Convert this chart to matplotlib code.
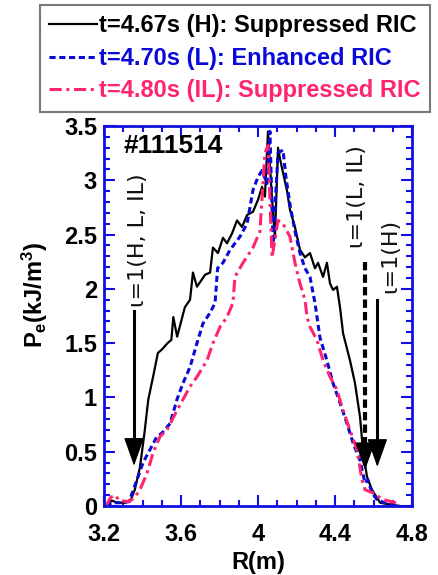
import matplotlib
matplotlib.use("Agg")
import matplotlib.pyplot as plt
from matplotlib.ticker import MultipleLocator, FuncFormatter

# Fonts: Arial-like bold everywhere
plt.rcParams['font.family'] = ['Liberation Sans', 'DejaVu Sans']
plt.rcParams['font.weight'] = 'bold'
plt.rcParams['mathtext.fontset'] = 'custom'
plt.rcParams['mathtext.rm'] = 'Liberation Sans:bold'
plt.rcParams['mathtext.bf'] = 'Liberation Sans:bold'
plt.rcParams['mathtext.it'] = 'Liberation Sans:bold'

# Data: R (m) and electron pressure (kJ/m^3)
h_r = [3.21, 3.24, 3.27, 3.31, 3.34, 3.36, 3.387, 3.41, 3.43, 3.455, 3.48, 3.50,
       3.53, 3.55, 3.56, 3.58, 3.62, 3.647, 3.662, 3.683, 3.725, 3.751, 3.766,
       3.792, 3.818, 3.839, 3.865, 3.891, 3.917, 3.943, 3.974, 4.00, 4.021,
       4.036, 4.052, 4.07, 4.088, 4.104, 4.114, 4.130, 4.151, 4.166, 4.192,
       4.218, 4.244, 4.270, 4.296, 4.312, 4.338, 4.358, 4.374, 4.390, 4.410,
       4.426, 4.442, 4.478, 4.504, 4.530, 4.545, 4.566, 4.592, 4.634, 4.70, 4.74]
h_p = [0.0, 0.05, 0.03, 0.03, 0.06, 0.15, 0.36, 0.67, 0.98, 1.19, 1.41, 1.44,
       1.50, 1.53, 1.74, 1.56, 1.83, 1.90, 2.15, 2.02, 2.13, 2.15, 2.38,
       2.33, 2.47, 2.42, 2.51, 2.63, 2.57, 2.68, 2.71, 2.82, 2.94,
       2.85, 3.45, 2.90, 2.47, 3.30, 3.20, 3.07, 2.90, 2.73, 2.57,
       2.36, 2.29, 2.33, 2.19, 2.24, 2.11, 2.24, 2.05, 1.99, 2.02,
       1.83, 1.59, 1.34, 1.13, 0.82, 0.52, 0.27, 0.15, 0.03, 0.01, 0.0]

l_r = [3.21, 3.24, 3.28, 3.33, 3.371, 3.403, 3.439, 3.475, 3.50, 3.543, 3.579,
       3.610, 3.647, 3.683, 3.714, 3.751, 3.777, 3.79, 3.818, 3.855, 3.906,
       3.943, 3.974, 4.00, 4.021, 4.047, 4.062, 4.078, 4.104, 4.13, 4.145,
       4.166, 4.192, 4.218, 4.244, 4.270, 4.296, 4.322, 4.358, 4.390, 4.426,
       4.462, 4.494, 4.530, 4.556, 4.571, 4.592, 4.618, 4.67, 4.72]
l_p = [0.0, 0.03, 0.03, 0.04, 0.24, 0.40, 0.52, 0.64, 0.67, 0.76, 0.98,
       1.13, 1.28, 1.50, 1.68, 1.78, 1.87, 2.19, 2.24, 2.36, 2.48,
       2.60, 2.91, 3.03, 3.09, 2.97, 3.45, 2.42, 3.25, 3.28, 3.03,
       2.78, 2.53, 2.33, 2.19, 2.11, 1.87, 1.55, 1.34, 1.13, 0.95,
       0.76, 0.58, 0.42, 0.21, 0.24, 0.12, 0.06, 0.02, 0.0]

il_r = [3.21, 3.235, 3.257, 3.28, 3.33, 3.36, 3.387, 3.423, 3.455, 3.491, 3.527,
        3.579, 3.610, 3.647, 3.683, 3.714, 3.735, 3.766, 3.803, 3.839, 3.870,
        3.88, 3.922, 3.974, 4.010, 4.036, 4.052, 4.073, 4.104, 4.130, 4.166,
        4.192, 4.218, 4.244, 4.255, 4.270, 4.306, 4.338, 4.374, 4.410, 4.442,
        4.478, 4.514, 4.540, 4.556, 4.597, 4.649, 4.738]
il_p = [0.0, 0.08, 0.10, 0.05, 0.04, 0.08, 0.15, 0.30, 0.49, 0.64, 0.70,
        0.88, 0.98, 1.10, 1.19, 1.28, 1.34, 1.50, 1.65, 1.74, 1.87,
        2.11, 2.24, 2.38, 2.53, 3.25, 3.32, 2.29, 2.63, 2.60, 2.48,
        2.24, 2.05, 1.90, 1.74, 1.65, 1.53, 1.34, 1.19, 1.07, 0.88,
        0.70, 0.52, 0.24, 0.15, 0.12, 0.06, 0.02]

labels = ["t=4.67s (H): Suppressed RIC",
          "t=4.70s (L): Enhanced RIC",
          "t=4.80s (IL): Suppressed RIC"]

blue = '#0a0ad8'
pink = '#ff2470'
spine_blue = '#1010e0'

fig = plt.figure(figsize=(4.38, 5.75), dpi=100)
ax = fig.add_axes([104 / 438, 1 - 506 / 575, 308 / 438, 380 / 575])

ax.plot(h_r, h_p, color='black', lw=1.6, label=labels[0])
ax.plot(l_r, l_p, color=blue, lw=2.2, dashes=(2, 1.2), label=labels[1])
ax.plot(il_r, il_p, color=pink, lw=2.2, dashes=(4, 1.5, 1, 1.5), label=labels[2])

ax.set_xlim(3.2, 4.8)
ax.set_ylim(0, 3.5)
ax.xaxis.set_major_locator(MultipleLocator(0.4))
ax.xaxis.set_minor_locator(MultipleLocator(0.1))
ax.yaxis.set_major_locator(MultipleLocator(0.5))
ax.yaxis.set_minor_locator(MultipleLocator(0.1))
fmt = FuncFormatter(lambda v, p: f"{v:g}")
ax.xaxis.set_major_formatter(fmt)
ax.yaxis.set_major_formatter(fmt)

for s in ax.spines.values():
    s.set_color(spine_blue)
    s.set_linewidth(2)
ax.tick_params(which='both', direction='in', top=True, right=True,
               color=spine_blue, width=1.5, labelsize=17)
ax.tick_params(which='major', length=8)
ax.tick_params(which='minor', length=4.5)
ax.tick_params(axis='x', pad=12)
ax.tick_params(axis='y', pad=5)

ax.set_xlabel("R(m)", fontsize=17, fontweight='bold', labelpad=4)
ax.set_ylabel(r"P$_\mathregular{e}$(kJ/m$^\mathregular{3}$)", fontsize=17,
              fontweight='bold')
ax.yaxis.set_label_coords(-0.175, 0.555)

ax.text(3.30, 3.32, "#111514", fontsize=19, fontweight='bold', ha='left', va='center')

# iota = 1 arrows and their labels
arrow_head = dict(arrowstyle='-|>,head_length=0.9,head_width=0.32',
                  color='black', lw=1, mutation_scale=20, shrinkA=0, shrinkB=0)
note_font = dict(rotation=90, fontsize=16, fontweight='normal',
                 family=['DejaVu Sans'], ha='center', va='center', color='#111111')

ax.plot([3.356, 3.356], [1.80, 0.55], color='black', lw=2.2)
ax.annotate('', xy=(3.356, 0.37), xytext=(3.356, 0.62), arrowprops=arrow_head)
ax.text(3.378, 2.45, "\u03b9=1(H, L, IL)", **note_font)

ax.plot([4.556, 4.556], [2.25, 0.52], color='black', lw=3, dashes=(2, 1))
ax.annotate('', xy=(4.556, 0.33), xytext=(4.556, 0.58), arrowprops=arrow_head)
ax.text(4.514, 2.85, "\u03b9=1(L, IL)", **note_font)

ax.plot([4.62, 4.62], [1.90, 0.55], color='black', lw=2.2)
ax.annotate('', xy=(4.62, 0.36), xytext=(4.62, 0.61), arrowprops=arrow_head)
ax.text(4.686, 2.30, "\u03b9=1(H)", **note_font)

# Legend above the axes
leg = fig.legend(loc='upper left', bbox_to_anchor=(40 / 438, 1 - 5 / 575),
                 prop={'size': 17, 'weight': 'bold'}, labelcolor='linecolor',
                 handlelength=2.0, handletextpad=0.1, labelspacing=0.4,
                 borderpad=0.4, borderaxespad=0, fancybox=False, frameon=True)
leg.get_frame().set_edgecolor('#555555')
leg.get_frame().set_linewidth(1.5)

fig.savefig("out.png", dpi=100)
